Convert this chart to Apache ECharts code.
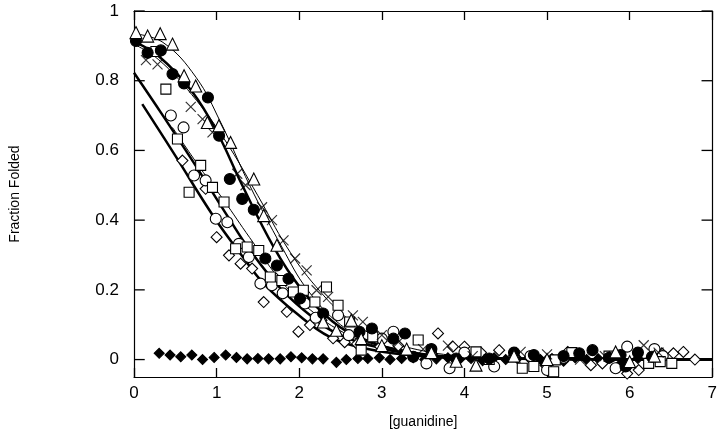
<!DOCTYPE html>
<html><head><meta charset="utf-8">
<script src="https://cdn.jsdelivr.net/npm/echarts@6/dist/echarts.min.js"></script>
<style>html,body{margin:0;padding:0;background:#fff}#c{width:720px;height:440px}</style>
</head><body><div id="c"></div>
<script>
// tick labels
const xTicks = [0,1,2,3,4,5,6,7];
const yTicks = [0,0.2,0.4,0.6,0.8,1];
// fitted curves
const curveTriangle = [[0,0.935],[0.35,0.91],[0.75,0.81],[1.05,0.68],[1.4,0.50],[1.79,0.323],[2.1,0.2],[2.5,0.1],[2.9,0.05],[3.4,0.02],[4,0.006],[5,0.001],[7,0]];
const curveFilledCircle = [[0,0.912],[0.3,0.87],[0.7,0.77],[1.0,0.655],[1.3,0.505],[1.69,0.323],[2.0,0.21],[2.4,0.11],[2.8,0.055],[3.2,0.028],[3.7,0.01],[4.5,0.003],[7,0]];
const curveCross = [[0,0.905],[0.3,0.86],[0.7,0.76],[1.1,0.63],[1.5,0.47],[1.85,0.323],[2.2,0.21],[2.6,0.115],[3.0,0.06],[3.5,0.025],[4,0.01],[5,0.002],[7,0]];
const curveSquare = [[0,0.823],[0.35,0.70],[0.75,0.555],[1.15,0.405],[1.4,0.315],[1.77,0.205],[2.17,0.12],[2.5,0.07],[3.0,0.032],[3.5,0.013],[4.2,0.004],[7,0]];
const curveCircle = [[0.466,0.666],[0.8,0.55],[1.09,0.456],[1.4,0.35],[1.8,0.22],[2.2,0.13],[2.6,0.07],[3.0,0.035],[3.5,0.014],[4.2,0.004],[7,0]];
const curveDiamond = [[0.1,0.733],[0.486,0.59],[0.967,0.409],[1.3,0.30],[1.57,0.218],[1.97,0.132],[2.37,0.065],[2.8,0.032],[3.3,0.014],[4,0.004],[7,0]];
// measured points
const triangles = [[0.024,0.938],[0.165,0.928],[0.317,0.935],[0.466,0.905],[0.606,0.814],[0.747,0.785],[0.888,0.68],[1.028,0.671],[1.169,0.623],[1.45,0.518],[1.57,0.413],[1.73,0.328],[2.29,0.108],[2.45,0.084],[2.63,0.113],[2.75,0.06],[3.0,0.04],[3.3,0.03],[3.6,0.02],[3.9,-0.005],[4.14,-0.016],[4.6,0.01],[5.0,0.0],[5.83,0.022],[6.0,-0.006],[6.3,0.01]];
const filledCircles = [[0.024,0.914],[0.165,0.88],[0.325,0.887],[0.466,0.819],[0.606,0.792],[0.895,0.752],[1.03,0.642],[1.16,0.518],[1.31,0.461],[1.45,0.43],[1.59,0.29],[1.73,0.27],[1.87,0.232],[2.01,0.175],[2.29,0.132],[2.73,0.08],[2.88,0.089],[3.14,0.06],[3.28,0.075],[3.38,0.008],[3.6,0.03],[3.9,0.003],[4.3,0.003],[4.6,0.02],[4.84,0.013],[5.2,0.01],[5.39,0.018],[5.55,0.027],[5.75,0.005],[5.89,0.013],[6.1,0.02],[6.27,0.008],[5.95,-0.02]];
const crosses = [[0.145,0.859],[0.285,0.847],[0.687,0.725],[0.83,0.69],[0.95,0.652],[1.25,0.533],[1.35,0.5],[1.55,0.437],[1.67,0.4],[1.81,0.342],[1.95,0.29],[2.09,0.256],[2.21,0.199],[2.35,0.18],[2.65,0.127],[2.77,0.108],[3.0,0.07],[3.2,0.05],[3.5,0.03],[3.8,0.04],[4.1,0.01],[4.68,0.022],[5.0,0.015],[5.4,0.0],[5.7,0.01],[6.17,0.041],[6.35,0.02]];
const squares = [[0.265,0.884],[0.386,0.776],[0.526,0.633],[0.667,0.48],[0.807,0.557],[0.95,0.494],[1.09,0.452],[1.23,0.318],[1.37,0.323],[1.51,0.313],[1.65,0.237],[1.79,0.227],[1.93,0.194],[2.05,0.199],[2.19,0.165],[2.33,0.208],[2.47,0.156],[2.61,0.108],[2.75,0.027],[2.89,0.065],[3.44,0.056],[3.6,0.02],[4.14,0.022],[4.3,0.0],[4.7,-0.025],[4.84,-0.02],[5.08,-0.035],[5.1,-0.001],[5.3,0.02],[5.75,0.01],[6.23,-0.011],[6.37,-0.006],[6.51,-0.011]];
const openCircles = [[0.446,0.70],[0.6,0.666],[0.727,0.528],[0.867,0.514],[0.99,0.404],[1.13,0.394],[1.27,0.332],[1.39,0.294],[1.53,0.218],[1.67,0.213],[1.8,0.19],[2.07,0.161],[2.2,0.12],[2.47,0.127],[2.6,0.07],[3.0,0.06],[3.14,0.08],[3.54,-0.011],[3.82,-0.025],[4.0,0.02],[4.36,-0.02],[4.8,0.01],[5.0,-0.03],[5.2,0.005],[5.83,-0.025],[5.97,0.037],[6.3,0.03],[6.4,0.01]];
const openDiamonds = [[0.586,0.571],[0.867,0.49],[1.0,0.351],[1.15,0.299],[1.29,0.275],[1.43,0.261],[1.57,0.165],[1.72,0.232],[1.85,0.137],[1.99,0.08],[2.13,0.099],[2.27,0.113],[2.41,0.061],[2.55,0.05],[2.7,0.045],[2.98,0.037],[3.2,0.04],[3.68,0.075],[3.86,0.037],[4.0,0.037],[4.2,0.02],[4.42,0.027],[4.6,0.01],[4.98,-0.016],[5.25,0.022],[5.53,-0.016],[5.67,-0.011],[5.97,-0.04],[6.11,-0.03],[6.39,0.018],[6.53,0.018],[6.65,0.022],[6.79,0.0]];
const filledDiamonds = [[0.305,0.018],[0.437,0.013],[0.566,0.008],[0.70,0.013],[0.83,0.0],[0.97,0.006],[1.11,0.013],[1.24,0.006],[1.37,0.002],[1.50,0.003],[1.63,0.002],[1.77,0.002],[1.90,0.008],[2.03,0.005],[2.16,0.002],[2.29,0.002],[2.45,-0.008],[2.57,0.0],[2.71,0.003],[2.83,0.003],[2.97,0.005],[3.1,0.0],[3.24,0.003],[3.38,0.005],[3.52,0.0],[3.66,0.002],[3.8,0.005],[3.94,0.0],[4.08,0.003],[4.22,-0.003],[4.36,0.005],[4.5,0.0],[4.64,0.003],[4.78,0.005],[4.92,0.0],[5.06,0.003],[5.2,-0.005],[5.34,0.005],[5.48,0.0],[5.62,0.002],[5.76,0.005],[5.9,-0.01],[5.96,-0.025],[6.1,0.003],[6.24,0.0]];

const FONT = 'Liberation Sans';
const chart = echarts.init(document.getElementById('c'), null, {renderer:'canvas'});
function line(data, w){ return {type:'line', data, smooth:0.4, showSymbol:false, symbol:'none', lineStyle:{color:'#000', width:w}, z:2, silent:true}; }
function sc(data, symbol, size, fill, extra){ return Object.assign({type:'scatter', data, symbol, symbolSize:size, itemStyle:{color:fill, borderColor:'#000', borderWidth:1.1, opacity:1}, z:3, silent:true}, extra||{}); }
const crossPath = 'path://M0,0L10,10M0,10L10,0';
const fmt = v => String(Math.round(v*10)/10);
const tickStyle = {color:'#000', width:1.3};
// inward y tick marks on left and right frame, built from yTicks
const tickLen = 0.13;
const tickSeries = [];
yTicks.forEach(v => {
  tickSeries.push({type:'line', data:[[0, v],[tickLen, v]], symbol:'none', showSymbol:false, clip:false, silent:true, z:5, lineStyle:{color:'#000', width:1.3}});
  tickSeries.push({type:'line', data:[[7 - tickLen, v],[7, v]], symbol:'none', showSymbol:false, clip:false, silent:true, z:5, lineStyle:{color:'#000', width:1.3}});
});
chart.setOption({
  animation:false,
  backgroundColor:'#fff',
  grid:{left:133, right:7, top:11, bottom:63},
  xAxis:[{type:'value', min:0, max:7, interval:1, position:'bottom',
    name:'[guanidine]', nameLocation:'middle', nameGap:38, nameTextStyle:{fontFamily:FONT, fontSize:14, color:'#000'},
    axisLine:{onZero:false, lineStyle:{color:'#000', width:1.2}}, axisTick:{show:true, inside:true, length:9, lineStyle:tickStyle},
    axisLabel:{fontFamily:FONT, fontSize:17, color:'#000', margin:8, formatter:v=>xTicks.includes(v)?String(v):''}, splitLine:{show:false}},
   {type:'value', min:0, max:7, interval:1, position:'top',
    axisLine:{onZero:false, lineStyle:{color:'#000', width:1.2}}, axisTick:{show:true, inside:true, length:9, lineStyle:tickStyle},
    axisLabel:{show:false}, splitLine:{show:false}}],
  yAxis:[{type:'value', min:-0.05, max:1, splitNumber:5, position:'left',
    name:'Fraction Folded', nameLocation:'middle', nameGap:112, nameRotate:90, nameTextStyle:{fontFamily:FONT, fontSize:14, color:'#000'},
    axisLine:{show:true, onZero:false, lineStyle:{color:'#000', width:1.2}}, axisTick:{show:false},
    axisLabel:{fontFamily:FONT, fontSize:17, color:'#000', margin:15, customValues:yTicks, formatter:fmt}, splitLine:{show:false}},
   {type:'value', min:-0.05, max:1, splitNumber:5, position:'right',
    axisLine:{show:true, onZero:false, lineStyle:{color:'#000', width:1.2}}, axisTick:{show:false},
    axisLabel:{show:false}, splitLine:{show:false}}],
  series:[
    line(curveTriangle, 1), line(curveFilledCircle, 2.5), line(curveCross, 1),
    line(curveSquare, 2.5), line(curveCircle, 1), line(curveDiamond, 2.5),
    sc(filledDiamonds, 'diamond', 10, '#000'),
    sc(openDiamonds, 'diamond', 11, '#fff'),
    sc(openCircles, 'circle', 11, '#fff'),
    sc(squares, 'rect', 10, '#fff'),
    sc(crosses, crossPath, 10, 'rgba(0,0,0,0)', {itemStyle:{color:'rgba(0,0,0,0)', borderColor:'#000', borderWidth:1.2}}),
    sc(filledCircles, 'circle', 11, '#000'),
    sc(triangles, 'triangle', 12, '#fff')
  ].concat(tickSeries)
});
</script></body></html>
